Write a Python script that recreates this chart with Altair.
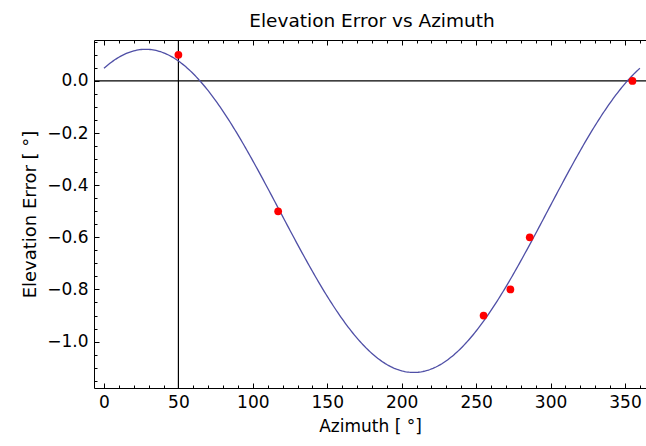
import numpy as np
import pandas as pd
import altair as alt

# Measured elevation error at each azimuth (degrees)
azimuth = [50, 117, 255, 273, 286, 355]
elev_error = [0.1, -0.5, -0.9, -0.8, -0.6, 0.0]

# Tick positions
x_major = [0, 50, 100, 150, 200, 250, 300, 350]
x_minor = [0, 10, 20, 30, 40, 50, 60, 70, 80, 90, 100, 110, 120, 130, 140, 150, 160,
           170, 180, 190, 200, 210, 220, 230, 240, 250, 260, 270, 280, 290, 300, 310,
           320, 330, 340, 350, 360]
y_major = [-1.0, -0.8, -0.6, -0.4, -0.2, 0.0]
y_minor = [-1.15, -1.1, -1.05, -1.0, -0.95, -0.9, -0.85, -0.8, -0.75, -0.7, -0.65,
           -0.6, -0.55, -0.5, -0.45, -0.4, -0.35, -0.3, -0.25, -0.2, -0.15, -0.1,
           -0.05, 0.0, 0.05, 0.1, 0.15]

# Axes crossing point
origin_x = [50]
origin_y = [0.0]

# Least-squares fit of  a + b cos(az) + c sin(az)  to the measurements
az_rad = np.radians(azimuth)
design = np.column_stack([np.ones_like(az_rad), np.cos(az_rad), np.sin(az_rad)])
coef, *_ = np.linalg.lstsq(design, np.array(elev_error), rcond=None)
grid = np.arange(0, 361, 1.0)
g_rad = np.radians(grid)
fit_df = pd.DataFrame({
    "az": grid,
    "err": coef[0] + coef[1] * np.cos(g_rad) + coef[2] * np.sin(g_rad),
})
pts_df = pd.DataFrame({"az": azimuth, "err": elev_error})

FONT = "DejaVu Sans"
xs = alt.Scale(domain=[-6.7, 364.1], nice=False, zero=False)
ys = alt.Scale(domain=[-1.178, 0.157], nice=False, zero=False)


def frame_axis(orient, values, size, labels=False, title=None, fmt=None,
               title_pad=10, label_size=16, title_size=16):
    """Inward-pointing ticks: shift the axis inside by its tick length."""
    kw = dict(orient=orient, values=values, tickSize=size, offset=-size,
              domain=False, grid=False, labels=labels, ticks=True,
              tickColor="black", tickWidth=1, title=title)
    if labels:
        kw.update(labelFont=FONT, labelFontSize=label_size, labelColor="black",
                  labelPadding=6, format=fmt, labelFlush=False)
    if title:
        kw.update(titleFont=FONT, titleFontSize=title_size, titleFontWeight="normal",
                  titleColor="black", titlePadding=title_pad)
    return alt.Axis(**kw)


vrule = alt.Chart(pd.DataFrame({"x": origin_x})).mark_rule(
    color="black", strokeWidth=1.2
).encode(x=alt.X("x:Q", scale=xs, axis=None))

hrule = alt.Chart(pd.DataFrame({"y": origin_y})).mark_rule(
    color="black", strokeWidth=1.2
).encode(y=alt.Y("y:Q", scale=ys, axis=None))

curve = alt.Chart(fit_df).mark_line(color="#4f4fa6", strokeWidth=1.3).encode(
    x=alt.X("az:Q", scale=xs,
            axis=frame_axis("bottom", x_major, 5, labels=True,
                            title="Azimuth [ °]", fmt="d", title_pad=8,
                            label_size=17, title_size=17)),
    y=alt.Y("err:Q", scale=ys,
            axis=frame_axis("left", y_major, 5, labels=True,
                            title="Elevation Error [ °]", fmt=".1f", title_pad=7,
                            label_size=17, title_size=18)),
)

points = alt.Chart(pts_df).mark_circle(color="#ff0000", opacity=1, size=60).encode(
    x=alt.X("az:Q", scale=xs, axis=frame_axis("bottom", x_minor, 3)),
    y=alt.Y("err:Q", scale=ys, axis=frame_axis("left", y_minor, 3)),
)

top_major = alt.Chart(fit_df).mark_line(opacity=0).encode(
    x=alt.X("az:Q", scale=xs, axis=frame_axis("top", x_major, 5)),
    y=alt.Y("err:Q", scale=ys, axis=None),
)

top_minor = alt.Chart(pts_df).mark_circle(opacity=0).encode(
    x=alt.X("az:Q", scale=xs, axis=frame_axis("top", x_minor, 3)),
    y=alt.Y("err:Q", scale=ys, axis=None),
)

chart = alt.layer(vrule, hrule, curve, points, top_major, top_minor).resolve_axis(
    x="independent", y="independent"
).properties(
    width=552,
    height=348,
    title=alt.TitleParams("Elevation Error vs Azimuth", font=FONT, fontSize=18.5,
                          fontWeight="normal", color="black", anchor="middle",
                          offset=9, dx=2),
    autosize=alt.AutoSizeParams(type="none"),
    padding={"left": 94, "top": 40, "right": 0, "bottom": 58},
    background="white",
).configure_view(stroke="black", strokeWidth=1)

chart.save("out.html", embed_options={"renderer": "svg", "actions": False})
